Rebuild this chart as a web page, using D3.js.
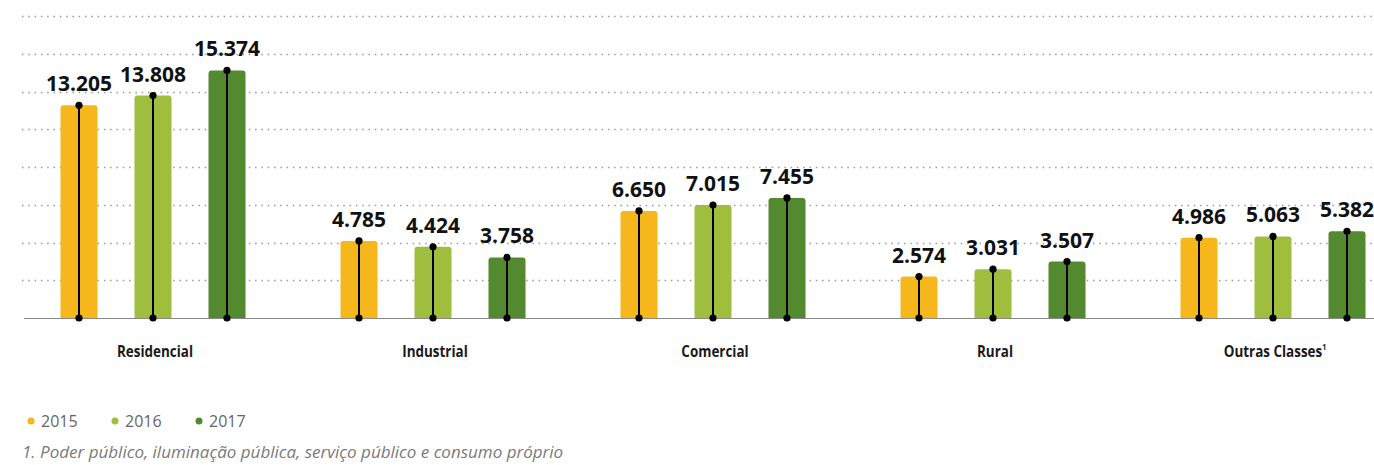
<!DOCTYPE html>
<html>
<head>
<meta charset="utf-8">
<script src="https://cdn.jsdelivr.net/npm/d3@7"></script>
<style>
  html, body { margin: 0; padding: 0; background: #fff; }
  svg { display: block; }
</style>
</head>
<body>
<div id="chart"></div>
<script>
// data
const categories = ['Residencial', 'Industrial', 'Comercial', 'Rural', 'Outras Classes'];
const years = ['2015', '2016', '2017'];
const values2015 = [13.205, 4.785, 6.650, 2.574, 4.986];
const values2016 = [13.808, 4.424, 7.015, 3.031, 5.063];
const values2017 = [15.374, 3.758, 7.455, 3.507, 5.382];
const colors = ['#F6B71C', '#9FBE3E', '#538A30'];
const footnote = '1. Poder público, iluminação pública, serviço público e consumo próprio';

const width = 1374, height = 465;
const baseY = 318, topY = 16;
const yMax = 18.75;

const series = [values2015, values2016, values2017];

const svg = d3.select('#chart').append('svg')
  .attr('width', width)
  .attr('height', height);

const x0 = d3.scaleBand()
  .domain(categories)
  .range([13, 1413]);

const x1 = d3.scaleBand()
  .domain(years)
  .range([-92.5, 92.5])
  .paddingInner(0.5);

const y = d3.scaleLinear()
  .domain([0, yMax])
  .range([baseY, topY]);

// dotted gridlines
const gridVals = d3.range(1, 9).map(i => i * yMax / 8);
svg.append('g')
  .selectAll('line')
  .data(gridVals)
  .enter().append('line')
  .attr('x1', 22)
  .attr('x2', width)
  .attr('y1', d => Math.round(y(d)) + 0.5)
  .attr('y2', d => Math.round(y(d)) + 0.5)
  .attr('stroke', '#9a9a9a')
  .attr('stroke-width', 1.3)
  .attr('stroke-dasharray', '1.5,4.8');

const flat = [];
categories.forEach((c, i) => {
  years.forEach((yr, j) => {
    flat.push({ cat: c, year: yr, j: j, value: series[j][i] });
  });
});

const cx = d => x0(d.cat) + x0.bandwidth() / 2 + x1(d.year) + x1.bandwidth() / 2;
const bw = x1.bandwidth();

// bars
svg.append('g')
  .selectAll('rect')
  .data(flat)
  .enter().append('rect')
  .attr('x', d => cx(d) - bw / 2)
  .attr('y', d => y(d.value))
  .attr('width', bw)
  .attr('height', d => baseY - y(d.value) + 3)
  .attr('rx', 3)
  .attr('fill', d => colors[d.j]);

// white cover for rounded bottom corners below baseline
svg.append('rect')
  .attr('x', 0).attr('y', baseY + 0.5)
  .attr('width', width).attr('height', 6)
  .attr('fill', '#fff');

// baseline
svg.append('line')
  .attr('x1', 24).attr('x2', width)
  .attr('y1', baseY + 0.5).attr('y2', baseY + 0.5)
  .attr('stroke', '#888')
  .attr('stroke-width', 1.2);

// stems with dots
const stems = svg.append('g').selectAll('g')
  .data(flat)
  .enter().append('g');

stems.append('line')
  .attr('x1', cx).attr('x2', cx)
  .attr('y1', d => y(d.value))
  .attr('y2', baseY)
  .attr('stroke', '#000')
  .attr('stroke-width', 2);

stems.append('circle')
  .attr('cx', cx)
  .attr('cy', d => y(d.value))
  .attr('r', 3.6)
  .attr('fill', '#000');

stems.append('circle')
  .attr('cx', cx)
  .attr('cy', baseY)
  .attr('r', 3.6)
  .attr('fill', '#000');

// value labels
stems.append('text')
  .attr('x', cx)
  .attr('y', d => y(d.value) - 14)
  .attr('text-anchor', 'middle')
  .style('font-family', '"Open Sans", sans-serif')
  .style('font-weight', 700)
  .style('font-size', '21px')
  .style('fill', '#111')
  .text(d => d3.format('.3f')(d.value));

// category labels (condensed look by horizontal scaling)
const catLabels = svg.append('g').selectAll('text')
  .data(categories)
  .enter().append('text')
  .attr('transform', d => `translate(${x0(d) + x0.bandwidth() / 2 + 2},357) scale(0.8,1)`)
  .attr('text-anchor', 'middle')
  .style('font-family', '"Open Sans", sans-serif')
  .style('font-weight', 700)
  .style('font-size', '16.8px')
  .style('fill', '#1a1a1a')
  .text(d => d);

catLabels.filter(d => d === 'Outras Classes')
  .append('tspan')
  .attr('dy', -7)
  .style('font-size', '9px')
  .text('1');

// legend
const legend = svg.append('g').selectAll('g')
  .data(years)
  .enter().append('g')
  .attr('transform', (d, i) => `translate(${31 + i * 84},421)`);

legend.append('circle')
  .attr('r', 3.5)
  .attr('fill', (d, i) => colors[i]);

legend.append('text')
  .attr('x', 10)
  .attr('y', 5.5)
  .style('font-family', '"Open Sans", sans-serif')
  .style('font-size', '16px')
  .style('fill', '#666')
  .text(d => d);

// footnote
svg.append('text')
  .attr('x', 22)
  .attr('y', 458)
  .style('font-family', '"Open Sans", sans-serif')
  .style('font-style', 'italic')
  .style('font-size', '17px')
  .style('fill', '#7a7a7a')
  .text(footnote);
</script>
</body>
</html>
